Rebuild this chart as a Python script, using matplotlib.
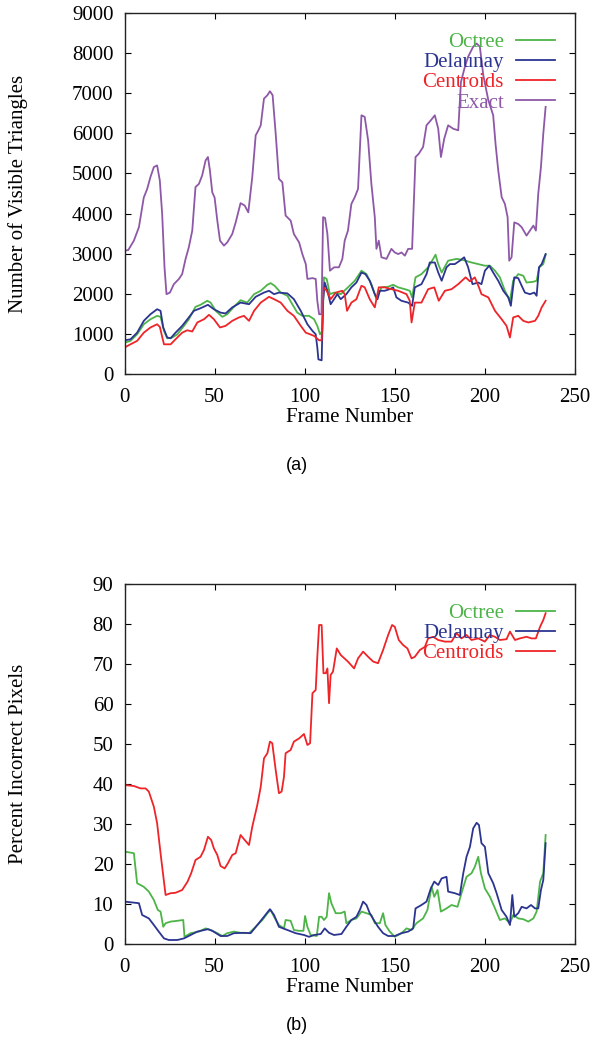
"""Visible triangles / incorrect pixels per frame, two stacked panels."""

import matplotlib

matplotlib.use("Agg")
import matplotlib.pyplot as plt
import numpy as np

# ====== data (frame, value) ======
tri_octree = [
    (0, 780), (3.3, 825), (7, 990), (10.7, 1240), (14.4, 1365), (18.1, 1450), (20, 1425),
    (21.9, 1075), (23.7, 890), (26.5, 910), (29.3, 990), (33, 1200), (35.7, 1365),
    (39.4, 1675), (42.2, 1725), (45.9, 1825), (47.8, 1780), (50.6, 1575), (54.3, 1425),
    (57, 1490), (60.7, 1675), (64.4, 1840), (68.1, 1780), (71.9, 1990), (75.6, 2075),
    (79.3, 2225), (81.1, 2265), (83.3, 2200), (86.7, 2030), (90.4, 1950), (93.1, 1740),
    (95.9, 1530), (98.7, 1450), (102.4, 1450), (105.2, 1365), (107, 1200), (108.5, 990),
    (109.8, 1075), (110.7, 2410), (112.2, 2370), (114, 1990), (116.3, 2030), (120, 1990),
    (124, 2160), (127.8, 2325), (131.5, 2575), (134.3, 2490), (137, 2240), (139.8, 1865),
    (142.6, 2160), (146.3, 2175), (149.1, 2225), (151.9, 2160), (155.6, 2115), (158.3, 2075),
    (159.6, 1910), (161.5, 2410), (164.8, 2490), (168.5, 2660), (171.3, 2870), (172.6, 2975),
    (174.1, 2740), (176, 2530), (179.6, 2825), (184.3, 2870), (188, 2840), (192.6, 2780),
    (196.3, 2740), (200, 2700), (202.8, 2700), (205.6, 2575), (208.3, 2410), (211.1, 2075),
    (213.9, 1825), (215.7, 2325), (218.5, 2490), (221.3, 2450), (223.1, 2280), (226.9, 2300),
    (228.7, 2325), (230.2, 2660), (232.4, 2740), (233.7, 2975),
]
tri_delaunay = [
    (0, 840), (3.3, 865), (7, 1030), (10.7, 1325), (14.4, 1490), (18.1, 1615), (20, 1575),
    (21.5, 1160), (23.7, 910), (25.6, 890), (28.3, 1030), (32, 1200), (35.7, 1410),
    (38.5, 1575), (42.2, 1640), (46.3, 1725), (49.6, 1615), (53.3, 1530), (56.1, 1510),
    (59.8, 1660), (64.4, 1780), (69.1, 1740), (72.8, 1925), (77.4, 2030), (80.2, 2075),
    (83, 1990), (85.7, 2030), (90.4, 2010), (94, 1865), (97.8, 1575), (101.5, 1240),
    (104.3, 1075), (106.1, 990), (107, 660), (107.6, 365), (109.4, 340), (110.2, 1825),
    (111.1, 2280), (112.6, 2075), (114.4, 1740), (116.3, 1865), (118.1, 1990), (120, 1865),
    (123.1, 1990), (125.9, 2160), (128.7, 2280), (131.5, 2530), (133.7, 2490), (136.1, 2325),
    (138.9, 1990), (140.4, 1865), (141.7, 2075), (144.4, 2075), (147.2, 2115), (149.1, 2160),
    (150.9, 1910), (153.7, 1825), (157.4, 1780), (159.6, 1700), (161.1, 2160), (164.8, 2240),
    (167.6, 2490), (169.4, 2780), (172.2, 2780), (174.1, 2530), (176, 2325), (178.7, 2660),
    (180.6, 2740), (183.3, 2740), (186.1, 2825), (188.5, 2910), (190.7, 2660), (193.1, 2240),
    (196.3, 2280), (198.1, 2240), (200, 2575), (202.4, 2700), (204.6, 2530), (207.4, 2325),
    (210.2, 2075), (213, 1910), (214.4, 1700), (216.3, 2410), (218.5, 2390), (220.4, 2200),
    (222.2, 2030), (225, 1990), (227.4, 2030), (228.7, 1950), (230, 2660), (231.5, 2740),
    (233.7, 2990),
]
tri_centroids = [
    (0, 660), (3.3, 740), (7, 825), (10.7, 1030), (14.4, 1160), (18.1, 1240), (19.6, 1175),
    (21.9, 740), (25.6, 740), (28.3, 865), (32, 1030), (34.8, 1090), (37.6, 1060),
    (40.4, 1285), (44.1, 1365), (46.9, 1475), (49.6, 1365), (53, 1160), (56.1, 1200),
    (59.8, 1325), (63.5, 1410), (66.3, 1450), (69.1, 1325), (71.9, 1575), (75.6, 1780),
    (80.2, 1925), (83, 1865), (86.7, 1780), (90.4, 1575), (94, 1450), (97.8, 1200),
    (100.6, 1030), (103, 990), (105.2, 950), (108, 840), (109.4, 840), (110.4, 2160),
    (112.2, 2075), (114.4, 1865), (117.2, 2030), (120.9, 2075), (122.2, 1990), (123.5, 1575),
    (125.9, 1780), (128.7, 1865), (131.5, 2200), (133.3, 2160), (136.1, 1865), (138.9, 1660),
    (141.1, 2160), (144.4, 2160), (148.1, 2115), (151.9, 2075), (156.5, 1990), (158.3, 1825),
    (159.3, 1285), (161.1, 1780), (164.8, 1780), (168.5, 2115), (171.9, 2160), (174.4, 1825),
    (177.8, 2075), (181.5, 2115), (185.2, 2240), (189.3, 2410), (191.7, 2310), (194.4, 2410),
    (196.7, 2160), (198.1, 1990), (201.9, 1910), (205.6, 1575), (209.3, 1365), (212, 1200),
    (213.9, 910), (215.7, 1410), (218.5, 1450), (221.3, 1325), (224.1, 1285), (227.8, 1325),
    (229.6, 1450), (231.5, 1660), (233.7, 1825),
]
tri_exact = [
    (0, 3075), (2.1, 3090), (5.2, 3325), (8, 3660), (10.7, 4400), (12.6, 4615), (14.4, 4910),
    (16.3, 5160), (18.1, 5200), (19.6, 4825), (20.9, 3990), (22.2, 2660), (23.3, 1990),
    (25.2, 2030), (27.4, 2240), (30.2, 2370), (32, 2490), (33.9, 2870), (35.7, 3160),
    (37.6, 3575), (39.4, 4660), (41.3, 4740), (43.1, 4950), (45, 5325), (46.3, 5410),
    (47.4, 5075), (48.7, 4530), (50, 4400), (51.5, 3825), (53, 3325), (55.2, 3200),
    (57, 3280), (59.8, 3490), (61.7, 3780), (64.4, 4260), (66.7, 4200), (68.7, 4030),
    (70.9, 4910), (72.8, 5950), (74.3, 6075), (75.6, 6200), (77.4, 6865), (79.3, 6950),
    (80.7, 7050), (82.2, 6950), (83.9, 5990), (85.7, 4865), (87.6, 4780), (89.4, 3950),
    (92.2, 3825), (94, 3490), (96.9, 3280), (98.7, 2990), (100.6, 2740), (101.5, 2370),
    (104.3, 2390), (106.1, 2370), (107, 1825), (108, 1490), (109.3, 1490), (110.2, 3910),
    (111.3, 3890), (112.6, 3490), (114, 2575), (116.3, 2660), (119, 2660), (120.9, 2870),
    (122.2, 3325), (124, 3575), (125.9, 4240), (127.8, 4410), (129.6, 4615), (131.5, 6450),
    (133.3, 6410), (135.2, 5825), (137, 4740), (138.9, 3910), (139.8, 3120), (141.1, 3325),
    (142.6, 2910), (145.4, 2870), (148.1, 3120), (150, 3030), (151.9, 2990), (153.7, 3030),
    (155.6, 2950), (157.4, 3120), (159.6, 3120), (161.5, 5410), (163.3, 5490), (165.7, 5660),
    (167.6, 6200), (170, 6325), (172.2, 6450), (174.1, 6115), (175.6, 5410), (177.4, 5860),
    (179.6, 6200), (182.4, 6115), (185.2, 6075), (186.7, 7280), (188.9, 7660), (190.7, 7910),
    (193.5, 8160), (195.4, 8240), (197.2, 8160), (199.1, 7450), (201.9, 6825), (204.6, 6450),
    (205.9, 5740), (207.4, 5075), (209.3, 4410), (211.1, 4240), (212.6, 3910), (213.5, 2825),
    (214.8, 2910), (216.3, 3780), (218.5, 3740), (220.4, 3660), (223.1, 3450), (225, 3575),
    (226.9, 3700), (228.3, 3575), (229.6, 4490), (231.1, 5160), (232.4, 5990), (233.7, 6660),
]

pix_octree = [
    (0, 23.1), (5.2, 22.7), (7, 15.2), (10.7, 14.3), (13.5, 13.1), (16.3, 11), (18.5, 8.5),
    (20, 8.1), (21.5, 4.3), (22.8, 5.2), (25.6, 5.6), (29.3, 5.8), (32.6, 6), (33.3, 1.8),
    (36.7, 2.7), (41.3, 3.1), (45, 3.9), (47.8, 3.5), (51.5, 2.7), (54.3, 2), (57, 2.7),
    (60.7, 3.1), (64.4, 2.8), (69.1, 2.7), (72.8, 4.3), (76.5, 6), (79.3, 7.7), (81.1, 8.5),
    (83, 6.8), (85.7, 4.75), (88.5, 3.9), (89.4, 6), (92.2, 5.8), (94, 3.5), (96.9, 3.3),
    (99.3, 3.3), (100.2, 7), (101.5, 4.3), (103.3, 2.25), (106.7, 2), (108, 6.8), (109.4, 6.8),
    (110.7, 6), (112.2, 6.8), (113.5, 12.7), (114.8, 10.2), (117.2, 7.7), (120, 7.7),
    (122.2, 8.1), (123.1, 5.2), (125.9, 6), (128.7, 6.4), (131.5, 8.1), (134.3, 7.7),
    (137, 7.25), (138.9, 5.2), (141.7, 5.2), (143.5, 7.7), (144.8, 4.75), (147.2, 3.1),
    (150, 1.8), (153.7, 2.7), (156.5, 3.9), (159.3, 3.5), (162, 5.2), (165.7, 6.4),
    (168.1, 8.5), (170.4, 14.3), (171.9, 11.8), (173.7, 13.5), (175.6, 8.1), (178.7, 8.9),
    (181.5, 9.75), (184.8, 9.3), (187, 12.7), (189.8, 16.8), (192.6, 17.7), (194.4, 19.3),
    (196.3, 21.8), (197.8, 17.7), (200, 13.9), (202.8, 11.8), (205.6, 8.9), (208.3, 6),
    (211.1, 6.4), (213.9, 5.2), (215.7, 7.25), (218.5, 6.4), (221.3, 6.2), (224.1, 5.6),
    (226.9, 6.4), (228.7, 8.1), (230.6, 15.6), (232.4, 17.7), (233.7, 27.25),
]
pix_delaunay = [
    (0, 10.6), (8, 10.2), (9.8, 7.25), (13.5, 6.4), (16.3, 4.75), (19, 3.1), (21.9, 1.4),
    (24.6, 1), (29.3, 1), (33, 1.4), (36.7, 2.25), (40.4, 3.1), (46.3, 3.7), (48.7, 3.3),
    (53.3, 2), (57, 2), (60.7, 2.7), (66.3, 2.8), (70, 2.7), (73.7, 4.75), (77.4, 6.8),
    (80.7, 8.7), (83, 7.25), (85.7, 4.3), (90.4, 3.5), (95, 2.7), (99.6, 2.25), (102.4, 1.8),
    (105.2, 2.25), (108.9, 2.5), (111.1, 3.9), (113.5, 2.8), (116.3, 2.25), (120.4, 2.5),
    (123.1, 4.3), (125.9, 6), (128.7, 6.8), (130.6, 8.5), (132.4, 10.6), (134.3, 9.75),
    (136.1, 7.7), (138.9, 5.6), (140.7, 4.3), (143.5, 2.7), (146.3, 2), (150, 2),
    (153.7, 2.7), (157.4, 3.1), (160.2, 3.9), (161.5, 8.9), (164.8, 9.75), (167.6, 10.6),
    (170, 13.9), (171.9, 15.6), (174.1, 14.75), (176, 16.4), (178.7, 16.8), (179.6, 13.1),
    (183.3, 12.7), (186.1, 12.25), (188, 17.7), (189.8, 21.8), (191.7, 24.3), (193.5, 28.9),
    (195.4, 30.3), (196.7, 29.75), (198.1, 25.2), (200, 24.3), (201.9, 17.7), (204.6, 15.2),
    (206.5, 12.7), (209.3, 8.5), (212, 6.8), (213.9, 4.75), (215.2, 12.25), (216.3, 6.8),
    (218.5, 7.7), (220.4, 9.3), (223.1, 8.9), (225.6, 9.75), (227.8, 8.9), (229.6, 8.9),
    (231.1, 13.5), (232.4, 16), (233.7, 25.2),
]
pix_centroids = [
    (0, 39.75), (5.2, 39.5), (8.9, 38.9), (11.7, 38.9), (13.5, 38.1), (16.3, 34.3),
    (18.1, 30.2), (20, 22.7), (22.8, 12.25), (25.6, 12.7), (28.3, 12.8), (32, 13.5),
    (35, 15.6), (37, 17.7), (39.4, 21), (42.2, 21.8), (44.1, 23.5), (46.3, 26.8), (48.1, 26),
    (49.6, 23.9), (51.5, 22.25), (53.3, 19.5), (55.6, 18.9), (57.4, 20.2), (59.8, 22.25),
    (61.7, 22.7), (64.4, 27.25), (66.7, 26), (69.1, 24.75), (70.9, 29.3), (73.7, 34.75),
    (75.6, 39.3), (77.4, 46.4), (79.3, 47.7), (80.7, 50.6), (82, 50.2), (83.9, 43.5),
    (85.7, 37.7), (87.2, 38.1), (88.5, 41.8), (89.4, 47.7), (92.2, 48.5), (94, 50.6),
    (96.9, 51.4), (99.6, 52.5), (101.5, 49.75), (103, 50.2), (104.3, 62.7), (106.1, 63.5),
    (107, 71.8), (108, 79.75), (109.4, 79.75), (110.4, 67.7), (111.7, 67.7), (112.6, 68.9),
    (113.5, 60.2), (114.4, 67.25), (115.7, 68.1), (117.8, 73.9), (120, 72.25), (124, 70.6),
    (127.4, 68.9), (129.6, 71.4), (132.4, 73.1), (135.2, 71.8), (138, 70.6), (140.7, 70.2),
    (143.5, 73.5), (146.3, 77.25), (148.5, 79.75), (150, 79.3), (152.2, 76), (154.6, 74.75),
    (157, 73.9), (159.3, 71.4), (161.1, 71.8), (163.9, 73.5), (166.7, 74.3), (168.5, 76.4),
    (171.3, 76.8), (174.1, 76), (177.8, 75.6), (181.5, 75.6), (184.3, 77.7), (187, 76.4),
    (189.8, 77.25), (192.6, 76), (196.3, 76.4), (200, 75.6), (202.8, 77.25), (205.6, 76.8),
    (208.3, 76), (212, 76.2), (213.9, 78.1), (216.7, 76), (219.4, 76.4), (223.1, 76.8),
    (225.9, 76.4), (228.3, 76.4), (230.6, 79.3), (232.4, 81), (233.7, 82.7),
]

x_ticks = [0, 50, 100, 150, 200, 250]
tri_ticks = [0, 1000, 2000, 3000, 4000, 5000, 6000, 7000, 8000, 9000]
pix_ticks = [0, 10, 20, 30, 40, 50, 60, 70, 80, 90]

# ====== style ======
GREEN = "#4db448"
BLUE = "#2b3590"
RED = "#ee2428"
PURPLE = "#8e58a8"
SERIF = "Liberation Serif"
FS = 15

plt.rcParams["font.family"] = SERIF
plt.rcParams["axes.linewidth"] = 1.0


def style_axes(ax, yticks, ylabel):
    ax.set_xlim(0, 250)
    ax.set_ylim(yticks[0], yticks[-1])
    ax.set_xticks(x_ticks)
    ax.set_yticks(yticks)
    ax.tick_params(direction="in", top=True, right=True, length=4, width=0.8,
                   labelsize=FS, colors="black")
    ax.tick_params(axis="x", pad=10)
    ax.tick_params(axis="y", pad=8)
    for s in ax.spines.values():
        s.set_color("#222222")
    ax.set_xlabel("Frame Number", fontsize=FS, labelpad=1)
    ax.set_ylabel(ylabel, fontsize=FS)
    ax.yaxis.set_label_coords(-0.215, 0.5)


def add_legend(ax, anchor):
    ax.legend(loc="upper right", bbox_to_anchor=anchor, markerfirst=False,
              frameon=False, labelcolor="linecolor", fontsize=FS,
              handlelength=1.85, handletextpad=0.6, labelspacing=0.03,
              borderpad=0, borderaxespad=0)


fig = plt.figure(figsize=(5.92, 10.53), dpi=100)
W, H = 592.0, 1053.0
left, width = 124.5 / W, 450.5 / W
ax1 = fig.add_axes([left, 1 - 374 / H, width, 361 / H])
ax2 = fig.add_axes([left, 1 - 944 / H, width, 360 / H])

lw = 1.3
for series, color, name in [(tri_octree, GREEN, "Octree"), (tri_delaunay, BLUE, "Delaunay"),
                            (tri_centroids, RED, "Centroids"), (tri_exact, PURPLE, "Exact")]:
    f, v = np.array(series).T
    ax1.plot(f, v, color=color, lw=lw, label=name)
style_axes(ax1, tri_ticks, "Number of Visible Triangles")
add_legend(ax1, (0.955, 0.946))

for series, color, name in [(pix_octree, GREEN, "Octree"), (pix_delaunay, BLUE, "Delaunay"),
                            (pix_centroids, RED, "Centroids")]:
    f, v = np.array(series).T
    ax2.plot(f, v, color=color, lw=lw, label=name)
style_axes(ax2, pix_ticks, "Percent Incorrect Pixels")
add_legend(ax2, (0.955, 0.946))

fig.text(297 / W, 1 - 465 / H, "(a)", ha="center", va="center",
         family="Liberation Sans", fontsize=13)
fig.text(297 / W, 1 - 1025 / H, "(b)", ha="center", va="center",
         family="Liberation Sans", fontsize=13)

fig.savefig("out.png", dpi=100)
